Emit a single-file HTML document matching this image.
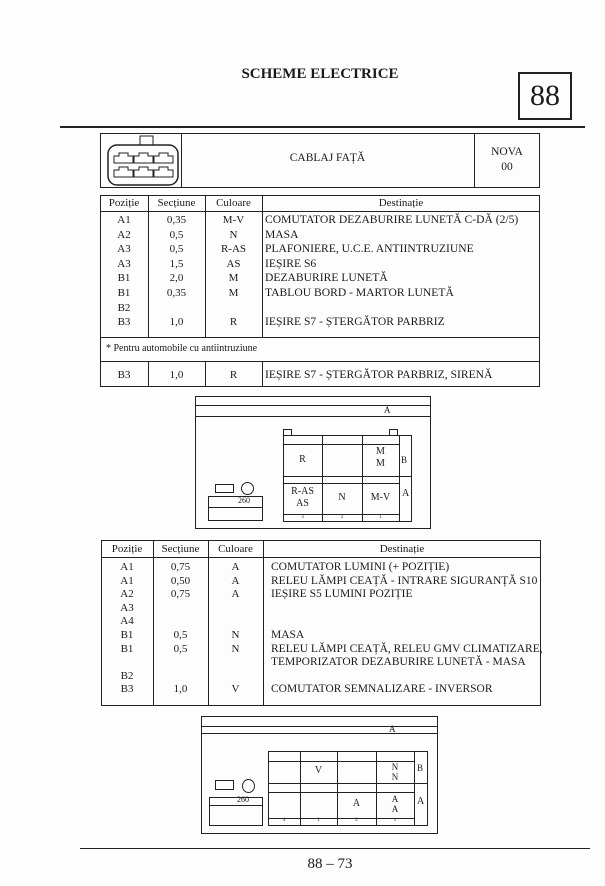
<!DOCTYPE html>
<html><head><meta charset="utf-8"><style>
body{margin:0;width:605px;height:886px;background:#fdfdfd;position:relative;overflow:hidden;font-family:"Liberation Serif",serif;color:#1a1a1a}
.a{position:absolute}
.b{position:absolute;border:1px solid #222;box-sizing:border-box}
.h{position:absolute;height:0;border-top:1px solid #222}
.v{position:absolute;width:0;border-left:1px solid #222}
.t{position:absolute;font-size:11px;white-space:nowrap;line-height:14px}
.c{text-align:center}
</style></head><body>
<div class="a" style="left:230px;top:66px;width:180px;text-align:center;font-weight:bold;font-size:15px">SCHEME ELECTRICE</div>
<div class="b" style="left:518px;top:72px;width:54px;height:48px;border-width:2px;font-size:30px;text-align:center;line-height:44px">88</div>
<div class="h" style="left:60px;top:126px;width:525px;border-top-width:2px"></div>

<!-- table 1 header -->
<div class="b" style="left:100px;top:133px;width:440px;height:55px"></div>
<div class="v" style="left:181px;top:133px;height:55px"></div>
<div class="v" style="left:474px;top:133px;height:55px"></div>
<div class="t c" style="left:181px;top:151px;width:293px;font-size:11.5px">CABLAJ FAȚĂ</div>
<div class="t c" style="left:474px;top:145px;width:66px;font-size:11.5px;line-height:15px">NOVA<br>00</div>
<svg class="a" style="left:100px;top:133px" width="81" height="55">
<rect x="40" y="3" width="13" height="9" fill="none" stroke="#222"/>
<rect x="8" y="12" width="70" height="40" rx="9" fill="none" stroke="#222" stroke-width="1.5"/>
<g fill="none" stroke="#222">
<path d="M14 30v-7h5v-3h9v3h5v7z"/><path d="M34 30v-7h5v-3h9v3h5v7z"/><path d="M54 30v-7h5v-3h9v3h5v7z"/>
<path d="M14 44v-7h5v-3h9v3h5v7z"/><path d="M34 44v-7h5v-3h9v3h5v7z"/><path d="M54 44v-7h5v-3h9v3h5v7z"/>
</g></svg>

<!-- table 1 -->
<div class="b" style="left:100px;top:195px;width:440px;height:192px"></div>
<div class="h" style="left:100px;top:211px;width:440px"></div>
<div class="h" style="left:100px;top:337px;width:440px"></div>
<div class="h" style="left:100px;top:361px;width:440px"></div>
<div class="v" style="left:148px;top:195px;height:142px"></div>
<div class="v" style="left:205px;top:195px;height:142px"></div>
<div class="v" style="left:262px;top:195px;height:142px"></div>
<div class="v" style="left:148px;top:361px;height:26px"></div>
<div class="v" style="left:205px;top:361px;height:26px"></div>
<div class="v" style="left:262px;top:361px;height:26px"></div>
<div class="t c" style="left:100px;top:196px;width:48px">Poziție</div>
<div class="t c" style="left:148px;top:196px;width:57px">Secțiune</div>
<div class="t c" style="left:205px;top:196px;width:57px">Culoare</div>
<div class="t c" style="left:262px;top:196px;width:278px">Destinație</div>
<div class="t c" style="left:100px;top:213px;width:48px;line-height:14.6px">A1<br>A2<br>A3<br>A3<br>B1<br>B1<br>B2<br>B3</div>
<div class="t c" style="left:148px;top:213px;width:57px;line-height:14.6px">0,35<br>0,5<br>0,5<br>1,5<br>2,0<br>0,35<br><br>1,0</div>
<div class="t c" style="left:205px;top:213px;width:57px;line-height:14.6px">M-V<br>N<br>R-AS<br>AS<br>M<br>M<br><br>R</div>
<div class="t" style="left:265px;top:213px;line-height:14.6px;font-size:11.6px">COMUTATOR DEZABURIRE LUNETĂ C-DĂ (2/5)<br>MASA<br>PLAFONIERE, U.C.E. ANTIINTRUZIUNE<br>IEȘIRE S6<br>DEZABURIRE LUNETĂ<br>TABLOU BORD - MARTOR LUNETĂ<br><br>IEȘIRE S7 - ȘTERGĂTOR PARBRIZ</div>
<div class="t" style="left:106px;top:342px;font-size:10px">* Pentru automobile cu antiintruziune</div>
<div class="t c" style="left:100px;top:368px;width:48px">B3</div>
<div class="t c" style="left:148px;top:368px;width:57px">1,0</div>
<div class="t c" style="left:205px;top:368px;width:57px">R</div>
<div class="t" style="left:265px;top:368px;font-size:11.6px">IEȘIRE S7 - ȘTERGĂTOR PARBRIZ, SIRENĂ</div>

<!-- diagram 1 -->
<div class="b" style="left:195px;top:396px;width:236px;height:133px"></div>
<div class="h" style="left:195px;top:405px;width:236px"></div>
<div class="h" style="left:195px;top:416px;width:236px"></div>
<div class="t" style="left:384px;top:404px;font-size:9px;line-height:12px">A</div>
<div class="b" style="left:283px;top:435px;width:129px;height:87px"></div>
<div class="b" style="left:283px;top:429px;width:9px;height:7px"></div>
<div class="b" style="left:389px;top:429px;width:9px;height:7px"></div>
<div class="h" style="left:283px;top:444px;width:116px"></div>
<div class="h" style="left:283px;top:476px;width:129px"></div>
<div class="h" style="left:283px;top:483px;width:116px"></div>
<div class="h" style="left:283px;top:514px;width:116px"></div>
<div class="v" style="left:322px;top:435px;height:87px"></div>
<div class="v" style="left:362px;top:435px;height:87px"></div>
<div class="v" style="left:399px;top:435px;height:87px"></div>
<div class="t c" style="left:283px;top:453px;width:39px;font-size:10px">R</div>
<div class="t c" style="left:362px;top:446px;width:37px;font-size:10px;line-height:12px">M<br>M</div>
<div class="t" style="left:401px;top:453px;font-size:9px">B</div>
<div class="t c" style="left:283px;top:486px;width:39px;font-size:10px;line-height:12px">R-AS<br>AS</div>
<div class="t c" style="left:322px;top:491px;width:40px;font-size:10px">N</div>
<div class="t c" style="left:362px;top:491px;width:37px;font-size:10px">M-V</div>
<div class="t" style="left:402px;top:487px;font-size:10px">A</div>
<div class="t c" style="left:283px;top:514px;width:39px;font-size:5px;line-height:8px">3</div>
<div class="t c" style="left:322px;top:514px;width:40px;font-size:5px;line-height:8px">2</div>
<div class="t c" style="left:362px;top:514px;width:37px;font-size:5px;line-height:8px">1</div>
<div class="b" style="left:215px;top:484px;width:19px;height:9px"></div>
<div class="b" style="left:241px;top:482px;width:13px;height:13px;border-radius:50%"></div>
<div class="b" style="left:208px;top:496px;width:55px;height:25px"></div>
<div class="h" style="left:208px;top:507px;width:55px"></div>
<div class="t" style="left:238px;top:495px;font-size:8px;line-height:12px">260</div>

<!-- table 2 -->
<div class="b" style="left:101px;top:540px;width:440px;height:166px"></div>
<div class="h" style="left:101px;top:557px;width:440px"></div>
<div class="v" style="left:153px;top:540px;height:166px"></div>
<div class="v" style="left:208px;top:540px;height:166px"></div>
<div class="v" style="left:263px;top:540px;height:166px"></div>
<div class="t c" style="left:101px;top:542px;width:52px">Poziție</div>
<div class="t c" style="left:153px;top:542px;width:55px">Secțiune</div>
<div class="t c" style="left:208px;top:542px;width:55px">Culoare</div>
<div class="t c" style="left:263px;top:542px;width:278px">Destinație</div>
<div class="t c" style="left:101px;top:561px;width:52px;line-height:13.6px">A1<br>A1<br>A2<br>A3<br>A4<br>B1<br>B1<br><br>B2<br>B3</div>
<div class="t c" style="left:153px;top:561px;width:55px;line-height:13.6px">0,75<br>0,50<br>0,75<br><br><br>0,5<br>0,5<br><br><br>1,0</div>
<div class="t c" style="left:208px;top:561px;width:55px;line-height:13.6px">A<br>A<br>A<br><br><br>N<br>N<br><br><br>V</div>
<div class="t" style="left:271px;top:561px;line-height:13.6px;font-size:11.5px">COMUTATOR LUMINI (+ POZIȚIE)<br>RELEU LĂMPI CEAȚĂ - INTRARE SIGURANȚĂ S10<br>IEȘIRE S5 LUMINI POZIȚIE<br><br><br>MASA<br>RELEU LĂMPI CEAȚĂ, RELEU GMV CLIMATIZARE,<br>TEMPORIZATOR DEZABURIRE LUNETĂ - MASA<br><br>COMUTATOR SEMNALIZARE - INVERSOR</div>

<!-- diagram 2 -->
<div class="b" style="left:201px;top:716px;width:237px;height:118px"></div>
<div class="h" style="left:201px;top:726px;width:237px"></div>
<div class="h" style="left:201px;top:733px;width:237px"></div>
<div class="t" style="left:389px;top:724px;font-size:9px;line-height:10px">A</div>
<div class="b" style="left:268px;top:751px;width:160px;height:75px"></div>
<div class="h" style="left:268px;top:761px;width:146px"></div>
<div class="h" style="left:268px;top:783px;width:160px"></div>
<div class="h" style="left:268px;top:792px;width:146px"></div>
<div class="h" style="left:268px;top:818px;width:146px"></div>
<div class="v" style="left:300px;top:751px;height:75px"></div>
<div class="v" style="left:337px;top:751px;height:75px"></div>
<div class="v" style="left:376px;top:751px;height:75px"></div>
<div class="v" style="left:414px;top:751px;height:75px"></div>
<div class="t c" style="left:300px;top:764px;width:37px;font-size:10px">V</div>
<div class="t c" style="left:376px;top:762px;width:38px;font-size:9px;line-height:10px">N<br>N</div>
<div class="t" style="left:417px;top:761px;font-size:9px">B</div>
<div class="t c" style="left:337px;top:797px;width:39px;font-size:10px">A</div>
<div class="t c" style="left:376px;top:794px;width:38px;font-size:9px;line-height:10px">A<br>A</div>
<div class="t" style="left:417px;top:795px;font-size:10px">A</div>
<div class="t c" style="left:268px;top:817px;width:32px;font-size:5px;line-height:8px">4</div>
<div class="t c" style="left:300px;top:817px;width:37px;font-size:5px;line-height:8px">1</div>
<div class="t c" style="left:337px;top:817px;width:39px;font-size:5px;line-height:8px">2</div>
<div class="t c" style="left:376px;top:817px;width:38px;font-size:5px;line-height:8px">1</div>
<div class="b" style="left:215px;top:780px;width:19px;height:10px"></div>
<div class="b" style="left:242px;top:779px;width:13px;height:14px;border-radius:50%"></div>
<div class="b" style="left:209px;top:797px;width:54px;height:29px"></div>
<div class="h" style="left:209px;top:805px;width:54px"></div>
<div class="t" style="left:237px;top:795px;font-size:8px;line-height:10px">260</div>

<div class="h" style="left:80px;top:848px;width:510px"></div>
<div class="a" style="left:290px;top:856px;width:80px;text-align:center;font-size:15px">88 – 73</div>
</body></html>
